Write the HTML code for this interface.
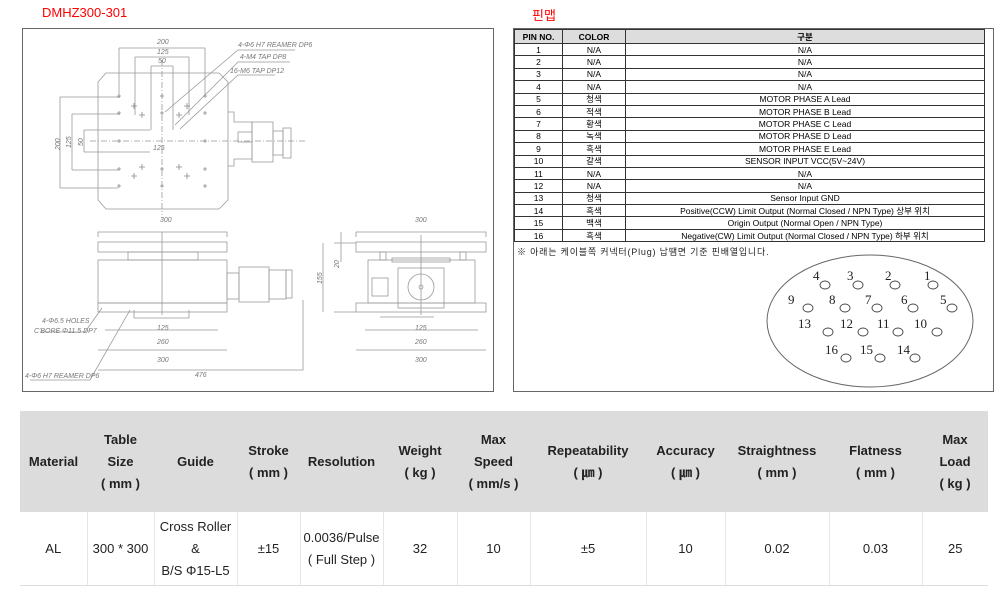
<!DOCTYPE html>
<html><head><meta charset="utf-8">
<style>
body{margin:0;width:1000px;height:601px;background:#fff;position:relative;overflow:hidden;font-family:"Liberation Sans","Noto Sans CJK KR",sans-serif;}
.abs{position:absolute}
.title{color:#f00;font-size:13px}
table{border-collapse:collapse}
#pin{position:absolute;left:514px;top:29px;width:471px;font-size:8.5px;}
#pin td{border:1px solid #333;text-align:center;height:11.4px;padding:0;line-height:10px}
#pin tr.h td{background:#ddd;font-weight:bold;height:13px}
#spec{position:absolute;left:20px;top:411px;width:968px;font-size:13px;color:#222}
#spec td{text-align:center;border-right:1px solid #e6e6e6;padding:0;line-height:22px}
#spec tr.h td{background:#dcdcdc;font-weight:bold;height:101px;border-right:none}
#spec tr.d td{height:73px;border-bottom:1px solid #ddd}
</style></head><body>
<div class="abs title" style="left:42px;top:5px">DMHZ300-301</div>
<div class="abs title" style="left:532px;top:5px">핀맵</div>

<svg class="abs" style="left:0;top:0" width="1000" height="400">
<g fill="none" stroke="#555" stroke-width="1">
<rect x="22.5" y="28.5" width="471" height="363" stroke="#666"/>
<rect x="513.5" y="28.5" width="480" height="363" stroke="#666"/>
</g>
<g fill="none" stroke="#999" stroke-width="0.8">
<path d="M106 73 H219 L228 82 V200 L219 209 H106 L98 200 V82 Z"/>
<path d="M228 112 H234 V122 H252 V159 H234 V166 H228"/>
<rect x="252" y="122" width="21" height="40"/>
<rect x="238" y="132" width="14" height="10"/>
<rect x="273" y="131" width="10" height="24"/>
<rect x="283" y="128" width="8" height="30"/>
<line x1="90" y1="141" x2="305" y2="141" stroke-dasharray="6 2 1 2"/>
<line x1="162" y1="60" x2="162" y2="215" stroke-dasharray="6 2 1 2"/>
<path d="M119 48 H205 M135 57 H189 M151 66 H173 M119 48 V95 M205 48 V95 M135 57 V115 M189 57 V115 M151 66 V130 M173 66 V130"/>
<path d="M60 97 H120 M72 114 H120 M84 130 H150 M60 97 V188 M72 114 V170 M84 130 V152 M60 188 H118 M72 170 H118 M84 152 H150"/>
<path d="M165 112 L238 50 H295 M175 125 L238 62 H290 M180 129 L238 75 H275"/>
<rect x="98" y="242" width="129" height="10"/>
<rect x="128" y="252" width="70" height="8"/>
<rect x="98" y="260" width="129" height="43"/>
<rect x="98" y="303" width="129" height="9"/>
<rect x="227" y="273" width="12" height="26"/>
<rect x="239" y="267" width="30" height="35"/>
<rect x="269" y="270" width="17" height="29"/>
<rect x="286" y="270" width="6" height="28"/>
<path d="M98 237 V232 H227 V237 M105 330 H218 M98 350 H227 M98 370 H303 V300 M134 318 H189 M134 318 V310 M189 318 V310 M162 232 V315"/>
<path d="M40 332 H85 L102 308 M30 380 H90 L130 310"/>
<rect x="356" y="242" width="130" height="10"/>
<rect x="368" y="260" width="107" height="43"/>
<rect x="356" y="303" width="130" height="9"/>
<rect x="380" y="252" width="6" height="8"/>
<rect x="460" y="252" width="6" height="8"/>
<rect x="392" y="258" width="58" height="4"/>
<rect x="372" y="278" width="16" height="18"/>
<rect x="398" y="268" width="46" height="40"/>
<circle cx="421" cy="287" r="13"/>
<circle cx="421" cy="287" r="2"/>
<path d="M356 237 V232 H486 V237 M365 330 H478 M356 350 H486 M380 317 H434 M334 243 H356 M334 312 H356 M323 243 V312 M341 232 V262 M421 235 V315"/>
</g>
<g stroke="#888" stroke-width="0.8">
<path d="M117 96h4M119 94v4 M117 113h4M119 111v4 M117 141h4M119 139v4 M117 169h4M119 167v4 M117 186h4M119 184v4
M160 96h4M162 94v4 M160 113h4M162 111v4 M160 169h4M162 167v4 M160 186h4M162 184v4
M203 96h4M205 94v4 M203 113h4M205 111v4 M203 141h4M205 139v4 M203 169h4M205 167v4 M203 186h4M205 184v4
M131 106h6M134 103v6 M139 115h6M142 112v6 M184 106h6M187 103v6 M176 115h6M179 112v6
M131 176h6M134 173v6 M139 167h6M142 164v6 M184 176h6M187 173v6 M176 167h6M179 164v6"/>
</g>
<g font-size="7" fill="#777" font-style="italic" font-family="Liberation Sans,sans-serif">
<text x="157" y="44">200</text><text x="157" y="54">125</text><text x="158" y="63">50</text>
<text x="238" y="47">4-Φ6 H7 REAMER DP6</text><text x="240" y="59">4-M4 TAP DP8</text><text x="230" y="73">16-M6 TAP DP12</text>
<text x="153" y="150">125</text><text x="160" y="222">300</text><text x="157" y="330">125</text><text x="157" y="344">260</text><text x="157" y="362">300</text><text x="195" y="377">476</text>
<text x="42" y="323">4-Φ6.5 HOLES</text><text x="34" y="333">C'BORE Φ11.5 DP7</text><text x="25" y="378">4-Φ6 H7 REAMER DP6</text>
<text x="415" y="222">300</text><text x="415" y="330">125</text><text x="415" y="344">260</text><text x="415" y="362">300</text>
<text transform="translate(60,150) rotate(-90)">200</text><text transform="translate(71,148) rotate(-90)">125</text><text transform="translate(83,146) rotate(-90)">50</text>
<text transform="translate(322,284) rotate(-90)">155</text><text transform="translate(339,268) rotate(-90)">20</text>
</g>
<ellipse cx="870" cy="321" rx="103" ry="66" fill="none" stroke="#666" stroke-width="1"/>
<g fill="none" stroke="#444" stroke-width="0.9">
<ellipse cx="933" cy="285" rx="5" ry="4"/><ellipse cx="895" cy="285" rx="5" ry="4"/><ellipse cx="858" cy="285" rx="5" ry="4"/><ellipse cx="825" cy="285" rx="5" ry="4"/>
<ellipse cx="952" cy="308" rx="5" ry="4"/><ellipse cx="913" cy="308" rx="5" ry="4"/><ellipse cx="877" cy="308" rx="5" ry="4"/><ellipse cx="845" cy="308" rx="5" ry="4"/><ellipse cx="808" cy="308" rx="5" ry="4"/>
<ellipse cx="937" cy="332" rx="5" ry="4"/><ellipse cx="898" cy="332" rx="5" ry="4"/><ellipse cx="863" cy="332" rx="5" ry="4"/><ellipse cx="828" cy="332" rx="5" ry="4"/>
<ellipse cx="915" cy="358" rx="5" ry="4"/><ellipse cx="880" cy="358" rx="5" ry="4"/><ellipse cx="846" cy="358" rx="5" ry="4"/>
</g>
<g font-size="13" fill="#222" font-family="Liberation Serif,serif">
<text x="924" y="280">1</text><text x="885" y="280">2</text><text x="847" y="280">3</text><text x="813" y="280">4</text>
<text x="940" y="304">5</text><text x="901" y="304">6</text><text x="865" y="304">7</text><text x="829" y="304">8</text><text x="788" y="304">9</text>
<text x="914" y="328">10</text><text x="877" y="328">11</text><text x="840" y="328">12</text><text x="798" y="328">13</text>
<text x="897" y="354">14</text><text x="860" y="354">15</text><text x="825" y="354">16</text>
</g>
<text x="517" y="255" font-size="9" fill="#222" font-family="Liberation Sans,Noto Sans CJK KR,sans-serif" letter-spacing="0.8">※ 아래는 케이블쪽 커넥터(Plug) 납땜면 기준 핀배열입니다.</text>
</svg>

<table id="pin">
<tr class="h"><td style="width:47px">PIN NO.</td><td style="width:62px">COLOR</td><td>구분</td></tr>
<tr><td>1</td><td>N/A</td><td>N/A</td></tr>
<tr><td>2</td><td>N/A</td><td>N/A</td></tr>
<tr><td>3</td><td>N/A</td><td>N/A</td></tr>
<tr><td>4</td><td>N/A</td><td>N/A</td></tr>
<tr><td>5</td><td>청색</td><td>MOTOR PHASE A Lead</td></tr>
<tr><td>6</td><td>적색</td><td>MOTOR PHASE B Lead</td></tr>
<tr><td>7</td><td>황색</td><td>MOTOR PHASE C Lead</td></tr>
<tr><td>8</td><td>녹색</td><td>MOTOR PHASE D Lead</td></tr>
<tr><td>9</td><td>흑색</td><td>MOTOR PHASE E Lead</td></tr>
<tr><td>10</td><td>갈색</td><td>SENSOR INPUT VCC(5V~24V)</td></tr>
<tr><td>11</td><td>N/A</td><td>N/A</td></tr>
<tr><td>12</td><td>N/A</td><td>N/A</td></tr>
<tr><td>13</td><td>청색</td><td>Sensor Input GND</td></tr>
<tr><td>14</td><td>흑색</td><td>Positive(CCW) Limit Output (Normal Closed / NPN Type) 상부 위치</td></tr>
<tr><td>15</td><td>백색</td><td>Origin Output (Normal Open / NPN Type)</td></tr>
<tr><td>16</td><td>흑색</td><td>Negative(CW) Limit Output (Normal Closed / NPN Type) 하부 위치</td></tr>
</table>

<table id="spec">
<tr class="h"><td style="width:67px">Material</td><td style="width:67px">Table<br>Size<br>( mm )</td><td style="width:83px">Guide</td><td style="width:63px">Stroke<br>( mm )</td><td style="width:83px">Resolution</td><td style="width:74px">Weight<br>( kg )</td><td style="width:73px">Max<br>Speed<br>( mm/s )</td><td style="width:116px">Repeatability<br>( ㎛ )</td><td style="width:79px">Accuracy<br>( ㎛ )</td><td style="width:104px">Straightness<br>( mm )</td><td style="width:93px">Flatness<br>( mm )</td><td>Max<br>Load<br>( kg )</td></tr>
<tr class="d"><td>AL</td><td>300 * 300</td><td>Cross Roller<br>&amp;<br>B/S Φ15-L5</td><td>±15</td><td>0.0036/Pulse<br>( Full Step )</td><td>32</td><td>10</td><td>±5</td><td>10</td><td>0.02</td><td>0.03</td><td style="border-right:none">25</td></tr>
</table>
</body></html>
